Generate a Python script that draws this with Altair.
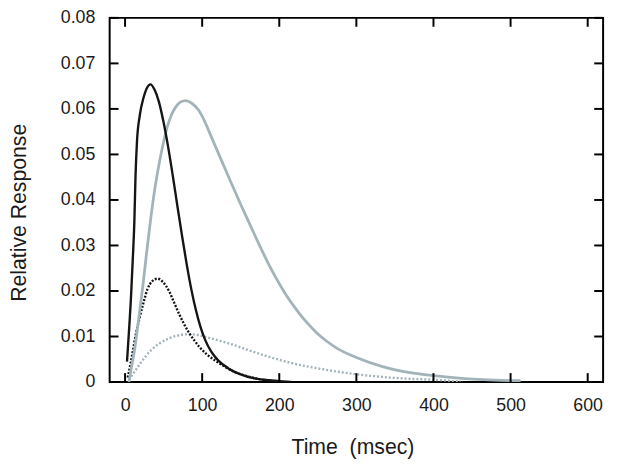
import altair as alt
import pandas as pd

# ---- data ----
black_solid_x = [2.5, 5, 7.5, 10, 12, 13.5, 15.5, 19, 24, 28, 33, 38, 44, 50, 56, 62, 68, 74, 80, 86, 92, 98, 104, 112, 121, 134, 150, 165, 180, 200, 215]
black_solid_y = [0.0045, 0.011, 0.018, 0.027, 0.035, 0.045, 0.053, 0.0585, 0.0625, 0.0645, 0.0654, 0.0643, 0.0615, 0.0570, 0.0515, 0.0452, 0.0385, 0.0320, 0.0258, 0.0203, 0.0157, 0.0120, 0.0092, 0.0066, 0.0047, 0.0030, 0.0017, 0.0009, 0.0005, 0.0002, 0.0]

gray_solid_x = [5, 8, 12, 17, 23, 28, 33, 38, 44, 50, 55, 60, 66, 72, 79, 86, 95, 104, 112, 125, 138, 150, 163, 175, 185, 195, 206, 220, 232, 248, 262, 275, 300, 334, 372, 400, 436, 479, 513]
gray_solid_y = [0.0, 0.003, 0.0067, 0.013, 0.021, 0.0285, 0.0355, 0.0418, 0.0478, 0.0528, 0.0562, 0.0586, 0.0605, 0.0615, 0.0618, 0.0613, 0.0598, 0.0570, 0.0538, 0.0487, 0.0436, 0.0390, 0.0342, 0.0298, 0.0263, 0.0231, 0.0199, 0.0164, 0.0138, 0.0109, 0.0089, 0.0074, 0.0054, 0.0034, 0.0020, 0.0014, 0.0008, 0.0004, 0.0003]

black_dot_x = [3.5, 7, 10, 14, 18.5, 24, 29, 35, 42, 49, 57, 63, 70, 76, 83, 90, 96, 108, 117, 130, 145, 160, 175, 190]
black_dot_y = [0.001, 0.004, 0.0067, 0.0105, 0.0139, 0.0175, 0.0204, 0.0221, 0.0227, 0.0220, 0.0200, 0.0177, 0.0150, 0.0129, 0.0108, 0.0091, 0.0078, 0.0058, 0.0047, 0.0033, 0.0020, 0.0012, 0.0006, 0.0003]

gray_dot_x = [5, 10, 18, 26, 35, 45, 57, 68, 80, 92, 105, 120, 138, 160, 180, 206, 223, 250, 275, 300, 335, 370, 400, 435]
gray_dot_y = [0.0005, 0.0017, 0.0037, 0.0055, 0.0072, 0.0085, 0.0096, 0.0102, 0.0105, 0.0104, 0.0099, 0.0092, 0.0083, 0.0070, 0.0059, 0.0046, 0.0039, 0.0030, 0.0023, 0.0017, 0.0011, 0.0007, 0.0005, 0.0001]

x_ticks = [0, 100, 200, 300, 400, 500, 600]
y_ticks = [0, 0.01, 0.02, 0.03, 0.04, 0.05, 0.06, 0.07, 0.08]

W, H = 500, 369
TICK = 9
BLACK = "#151515"
GRAY = "#a2b3b9"
FONT = "Liberation Sans"

xscale = alt.Scale(domain=[-20, 620], nice=False, zero=False)
yscale = alt.Scale(domain=[0, 0.08], nice=False)

xaxis = alt.Axis(values=x_ticks, format="d", domain=False, ticks=False, grid=False,
                 labelPadding=15, labelFontSize=18, labelFont=FONT,
                 labelColor="#1a1a1a", title="Time \u00a0(msec)", titleFontSize=21.5,
                 titleFont=FONT, titleFontWeight="normal", titleColor="#1a1a1a",
                 titleX=246, titleY=72, titleBaseline="alphabetic", titleAnchor="middle")
yaxis = alt.Axis(values=y_ticks, labelExpr="datum.value == 0 ? '0' : format(datum.value, '.2f')",
                 domain=False, ticks=False, grid=False,
                 labelPadding=15, labelFontSize=18, labelFont=FONT,
                 labelColor="#1a1a1a", title="Relative Response", titleFontSize=21.5,
                 titleFont=FONT, titleFontWeight="normal", titleColor="#1a1a1a",
                 titleX=-85, titleY=197, titleBaseline="alphabetic", titleAngle=-90)

X = alt.X("x:Q", scale=xscale, axis=xaxis)
Y = alt.Y("y:Q", scale=yscale, axis=yaxis)


def line(xs, ys, color, width, dash=None):
    df = pd.DataFrame({"x": xs, "y": ys})
    kw = dict(color=color, strokeWidth=width, interpolate="monotone", clip=True)
    if dash:
        kw["strokeDash"] = dash
    return alt.Chart(df).mark_line(**kw).encode(x=X, y=Y)


gray_dot = line(gray_dot_x, gray_dot_y, GRAY, 2.4, [2, 2])
black_dot = line(black_dot_x, black_dot_y, BLACK, 2.4, [2, 1.6])
gray_solid = line(gray_solid_x, gray_solid_y, GRAY, 2.8)
black_solid = line(black_solid_x, black_solid_y, BLACK, 2.4)

xt = pd.DataFrame({"x": x_ticks})
yt = pd.DataFrame({"y": y_ticks})

bottom_ticks = alt.Chart(xt).mark_rule(color="black", strokeWidth=2).encode(
    x=X, y=alt.value(H), y2=alt.value(H - TICK))
top_ticks = alt.Chart(xt).mark_rule(color="black", strokeWidth=2).encode(
    x=X, y=alt.value(0), y2=alt.value(TICK))
left_ticks = alt.Chart(yt).mark_rule(color="black", strokeWidth=2).encode(
    y=Y, x=alt.value(0), x2=alt.value(TICK))
right_ticks = alt.Chart(yt).mark_rule(color="black", strokeWidth=2).encode(
    y=Y, x=alt.value(W), x2=alt.value(W - TICK))

chart = alt.layer(
    gray_dot, black_dot, gray_solid, black_solid,
    bottom_ticks, top_ticks, left_ticks, right_ticks,
).properties(
    width=W, height=H,
    autosize=alt.AutoSizeParams(type="none"),
    padding={"left": 103, "top": 7, "right": 8, "bottom": 76},
    background="white",
).configure_view(stroke="black", strokeWidth=2)

chart.save("out.html", embed_options={"renderer": "svg", "actions": False})
